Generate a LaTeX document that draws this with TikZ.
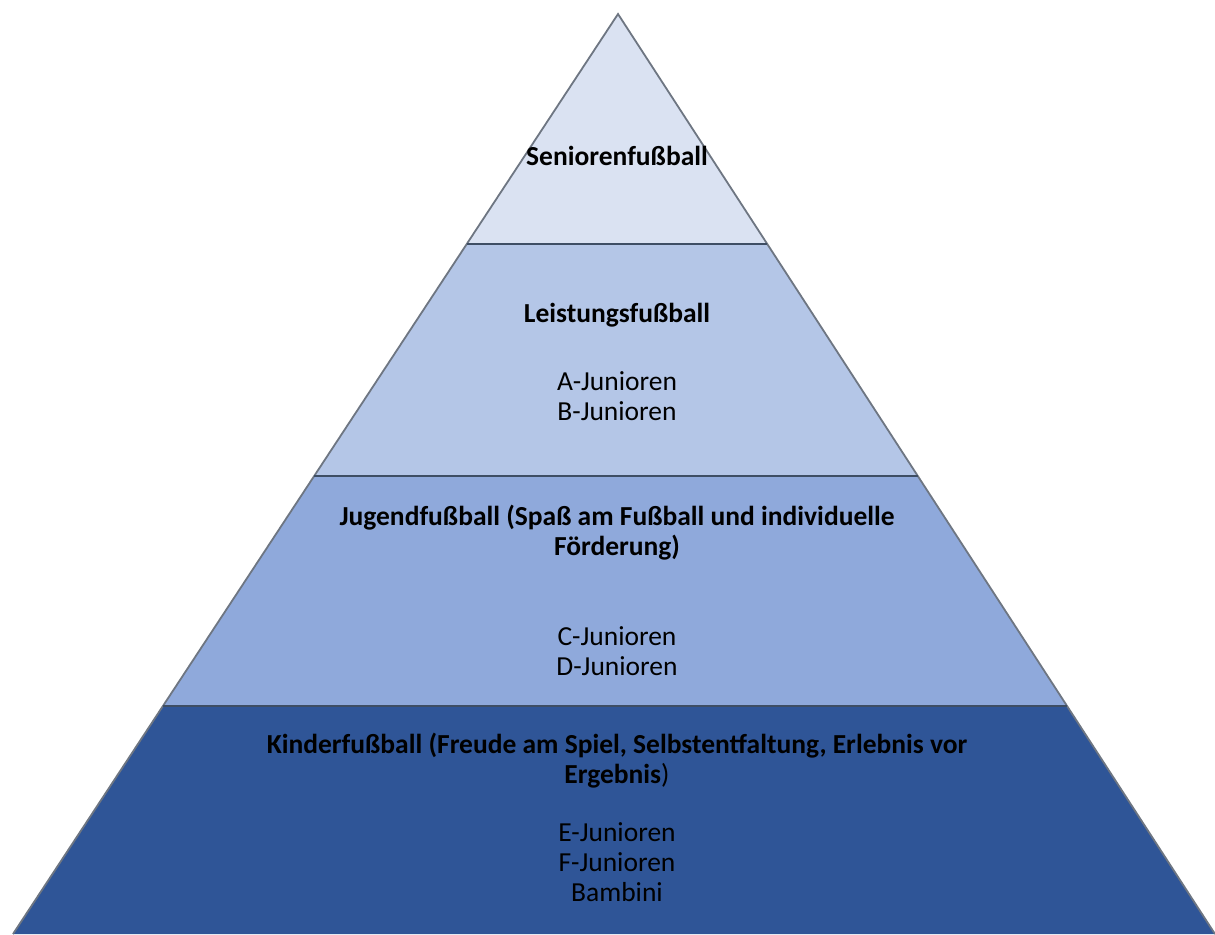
\documentclass[tikz,border=0pt]{standalone}
\usepackage{fontspec}
\setmainfont{Carlito}
\definecolor{bandA}{RGB}{218,226,242}
\definecolor{bandB}{RGB}{180,198,231}
\definecolor{bandC}{RGB}{143,169,219}
\definecolor{bandD}{RGB}{47,85,151}
\definecolor{edgegray}{RGB}{110,118,130}
\definecolor{divline}{RGB}{62,78,100}
\begin{document}
\begin{tikzpicture}[x=1pt,y=-1pt,
  band/.style={draw=edgegray,line width=1.8pt,line join=miter},
  divider/.style={draw=divline,line width=2.6pt},
  lbl/.style={inner sep=0pt,align=center,text=black,font=\fontsize{27.5}{30}\selectfont},
  blbl/.style={lbl,font=\fontsize{27.5}{30}\selectfont\bfseries}]
\useasboundingbox (0,0) rectangle (1215,934);
\coordinate (apex) at (618,14);
\coordinate (l1) at (466.8,244); \coordinate (r1) at (767.2,244);
\coordinate (l2) at (314.2,476); \coordinate (r2) at (917.8,476);
\coordinate (l3) at (162.9,706); \coordinate (r3) at (1067.0,706);
\coordinate (l4) at (13,934);    \coordinate (r4) at (1215,934);
\fill[bandA] (apex) -- (r1) -- (l1) -- cycle;
\fill[bandB] (l1) -- (r1) -- (r2) -- (l2) -- cycle;
\fill[bandC] (l2) -- (r2) -- (r3) -- (l3) -- cycle;
\fill[bandD] (l3) -- (r3) -- (r4) -- (l4) -- cycle;
\draw[band] (l4) -- (apex) -- (r4);
\draw[divider] (l1) -- (r1);
\draw[divider] (l2) -- (r2);
\draw[divider] (l3) -- (r3);
\node[blbl] (senior) at (617,156) {Seniorenfußball};
\node[blbl] (leist) at (617,315) {Leistungsfußball};
\node[lbl] (ab) at (617,396) {A-Junioren\\B-Junioren};
\node[blbl] (jugend) at (617,532.5) {Jugendfußball (Spaß am Fußball und individuelle\\Förderung)};
\node[lbl] (cd) at (617,651) {C-Junioren\\D-Junioren};
\node[lbl] (kinder) at (617,761) {\textbf{Kinderfußball (Freude am Spiel, Selbstentfaltung, Erlebnis vor}\\\textbf{Ergebnis})};
\node[lbl] (ef) at (617,862) {E-Junioren\\F-Junioren\\Bambini};
\end{tikzpicture}
\end{document}
